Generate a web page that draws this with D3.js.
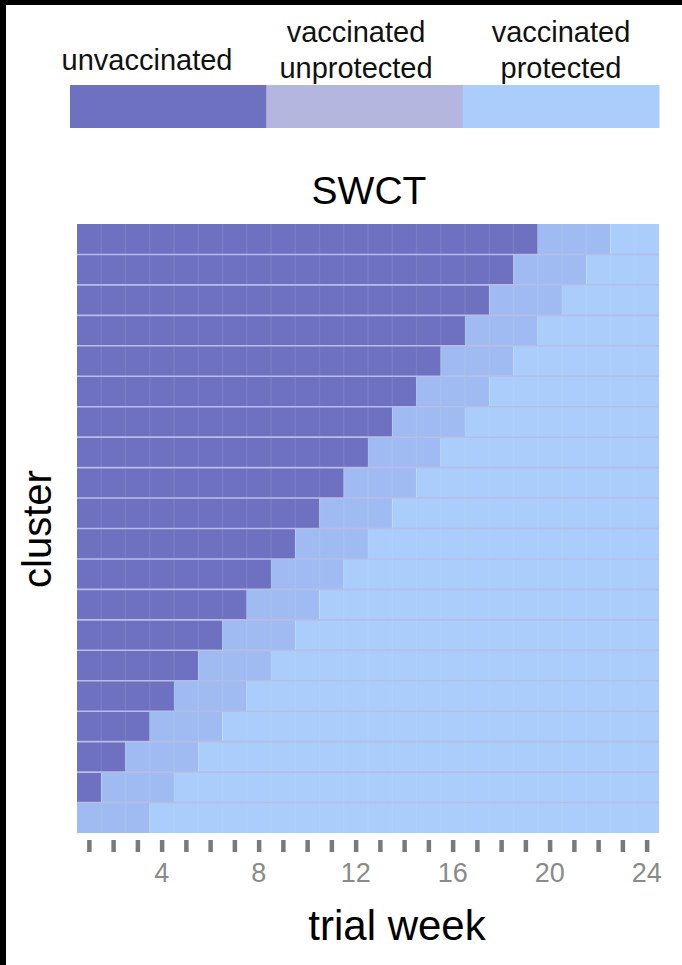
<!DOCTYPE html>
<html><head><meta charset="utf-8">
<script src="https://cdn.jsdelivr.net/npm/d3@7"></script>
<style>
html,body{margin:0;padding:0;background:#000;}
svg{display:block;font-family:"Liberation Sans",Arial,Helvetica,sans-serif;}
</style></head>
<body>
<script>
// Data
const clusters = d3.range(1, 21);                         // top to bottom
const vaccinationWeek = [19,18,17,16,15,14,13,12,11,10,9,8,7,6,5,4,3,2,1,0]; // end of unvaccinated
const protectedWeek   = [22,21,20,19,18,17,16,15,14,13,12,11,10,9,8,7,6,5,4,3]; // end of unprotected
const totalWeeks = 24;
const tickLabels = [4, 8, 12, 16, 20, 24];
const legendLabels = [["unvaccinated"], ["vaccinated","unprotected"], ["vaccinated","protected"]];
const legendColors = ["#6e71c0", "#b4b6df", "#aacdfb"];
const cellColors = {unvacc:"#6e71c0", unprot:"#a0bbf1", prot:"#aacdfb"};

const W = 682, H = 965;
const svg = d3.select("body").append("svg").attr("width", W).attr("height", H);
svg.append("rect").attr("x",6).attr("y",5).attr("width",W-6).attr("height",H-5).attr("fill","#fff");

// Legend
const lx = d3.scaleBand().domain(d3.range(3)).range([70, 659]).paddingInner(0);
svg.selectAll("rect.leg").data(legendColors).join("rect")
  .attr("x",(d,i)=>lx(i)).attr("y",85).attr("width",lx.bandwidth()+0.5).attr("height",43).attr("fill",d=>d);
const legendCx = [147, 356, 561];
legendLabels.forEach((lines,i)=>{
  const baseY = lines.length===1 ? 70 : 42;
  lines.forEach((t,j)=>{
    svg.append("text").attr("x",legendCx[i]).attr("y",baseY + j*36).attr("text-anchor","middle")
      .attr("font-size",29).attr("fill","#111").text(t);
  });
});

// Title
svg.append("text").attr("x",369).attr("y",204).attr("text-anchor","middle").attr("font-size",39).attr("fill","#000").text("SWCT");

// Plot
const x0 = 77, x1 = 659, y0 = 224, y1 = 833;
const x = d3.scaleLinear().domain([0,totalWeeks]).range([x0,x1]);
const y = d3.scaleBand().domain(clusters).range([y0,y1]).paddingInner(0);

const segs = [];
clusters.forEach((c,i)=>{
  if (vaccinationWeek[i] > 0) segs.push({c, a:0, b:vaccinationWeek[i], col:cellColors.unvacc});
  segs.push({c, a:vaccinationWeek[i], b:protectedWeek[i], col:cellColors.unprot});
  segs.push({c, a:protectedWeek[i], b:totalWeeks, col:cellColors.prot});
});
const g = svg.append("g");
g.selectAll("rect.seg").data(segs).join("rect")
  .attr("x",d=>x(d.a)).attr("y",d=>y(d.c)).attr("width",d=>x(d.b)-x(d.a)).attr("height",y.bandwidth())
  .attr("fill",d=>d.col);
// vertical week grid lines
g.selectAll("line.v").data(d3.range(1,totalWeeks)).join("line")
  .attr("x1",d=>x(d)).attr("x2",d=>x(d)).attr("y1",y0).attr("y2",y1)
  .attr("stroke","#ffffff").attr("stroke-opacity",0.08).attr("stroke-width",1.5);
// horizontal separators
g.selectAll("line.h").data(clusters.slice(1)).join("line")
  .attr("x1",x0).attr("x2",x1).attr("y1",d=>y(d)).attr("y2",d=>y(d))
  .attr("stroke","#b8bde8").attr("stroke-width",1.6);

// x axis: tick marks at week centers
const weekCenters = d3.range(1,totalWeeks+1);
svg.selectAll("rect.tick").data(weekCenters).join("rect")
  .attr("x",d=>x(d-0.5)-2).attr("y",840).attr("width",4.5).attr("height",12).attr("fill","#7a7a7a");
svg.selectAll("text.tl").data(tickLabels).join("text")
  .attr("x",d=>x(d-0.5)).attr("y",882).attr("text-anchor","middle").attr("font-size",27).attr("fill","#8a8a8a").text(d=>d);

svg.append("text").attr("x",397).attr("y",940).attr("text-anchor","middle").attr("font-size",42).attr("fill","#000").text("trial week");
svg.append("text").attr("transform","translate(51,529) rotate(-90)").attr("text-anchor","middle").attr("font-size",40).attr("fill","#000").text("cluster");
</script>
</body></html>
